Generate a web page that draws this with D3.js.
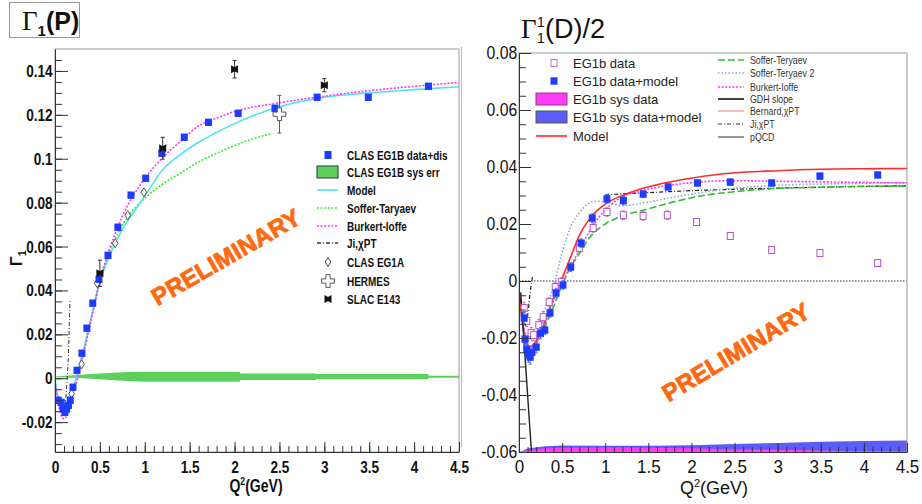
<!DOCTYPE html>
<html><head><meta charset="utf-8">
<script src="https://cdn.jsdelivr.net/npm/d3@7/dist/d3.min.js"></script>
<style>html,body{margin:0;padding:0;background:#fff}svg{display:block}</style>
</head><body>
<svg id="chart" width="922" height="504"></svg>
<script>
// ================= DATA =================
// shared x axis
const xTicks = [0,0.5,1,1.5,2,2.5,3,3.5,4,4.5];
const xTickLabels = ["0","0.5","1","1.5","2","2.5","3","3.5","4","4.5"];

// ---- Left panel: Gamma1(P) ----
const yTicksP = [-0.02,0,0.02,0.04,0.06,0.08,0.1,0.12,0.14];
const yTickLabelsP = ["-0.02","0","0.02","0.04","0.06","0.08","0.1","0.12","0.14"];

const eg1bPQ = [0.035,0.07,0.09,0.11,0.13,0.15,0.17,0.20,0.245,0.30,0.355,0.42,0.49,0.59,0.70,0.846,1.01,1.19,1.44,1.71,2.04,2.45,2.92,3.49,4.16];
const eg1bPV = [-0.010,-0.011,-0.0137,-0.0155,-0.014,-0.0123,-0.010,-0.0041,0.0036,0.0114,0.0228,0.0342,0.0451,0.056,0.0688,0.0834,0.0911,0.1025,0.1098,0.1166,0.1207,0.123,0.128,0.128,0.133];

const eg1aPQ = [0.185,0.297,0.47,0.67,0.81,0.99];
const eg1aPV = [-0.007,0.0064,0.0433,0.0615,0.0743,0.0847];

const slacPQ = [0.5,1.2,2.0,3.0];
const slacPV = [0.0478,0.1048,0.1408,0.1335];
const slacPErr = [0.006,0.005,0.004,0.003];

const hermesPQ = [2.5];
const hermesPV = [0.1203];
const hermesPErr = [0.0086];

const modelPQ = [0,0.03,0.06,0.1,0.13,0.16,0.2,0.25,0.3,0.4,0.5,0.6,0.7,0.8,0.9,1.0,1.2,1.4,1.6,1.8,2.0,2.5,3.0,3.5,4.0,4.5];
const modelPV = [0,-0.008,-0.014,-0.0168,-0.015,-0.011,-0.005,0.002,0.010,0.027,0.044,0.055,0.064,0.071,0.077,0.083,0.095,0.102,0.1075,0.112,0.116,0.1237,0.128,0.130,0.1315,0.1328];

const stPQ = [0.03,0.06,0.1,0.13,0.16,0.2,0.25,0.3,0.4,0.5,0.6,0.7,0.8,0.9,1.0,1.2,1.4,1.6,1.8,2.0,2.2,2.42];
const stPV = [-0.008,-0.014,-0.0168,-0.015,-0.011,-0.005,0.002,0.010,0.027,0.045,0.057,0.066,0.073,0.078,0.082,0.0885,0.0935,0.0985,0.1025,0.106,0.109,0.1115];

const biPQ = [0,0.03,0.06,0.1,0.13,0.16,0.2,0.25,0.3,0.4,0.5,0.6,0.7,0.8,0.9,1.0,1.2,1.4,1.6,1.8,2.0,2.5,3.0,3.5,4.0,4.5];
const biPV = [-0.002,-0.010,-0.016,-0.0185,-0.017,-0.013,-0.007,0.0,0.008,0.026,0.044,0.058,0.069,0.078,0.085,0.091,0.1005,0.108,0.115,0.1185,0.1215,0.1255,0.1285,0.131,0.133,0.1348];

const jiPQ = [0,0.03,0.06,0.09,0.11,0.13,0.15,0.167];
const jiPV = [-0.002,-0.008,-0.012,-0.013,-0.012,-0.004,0.012,0.036];

const sysPQ  = [0,0.2,0.5,0.8,1.0,1.5,2.06,2.06,2.91,2.91,4.16,4.16,4.5];
const sysPLo = [0.0004,0.0002,-0.0005,-0.0012,-0.0016,-0.0016,-0.0016,-0.0008,-0.0008,-0.0004,-0.0004,0.0002,0.0002];
const sysPHi = [0.0008,0.0014,0.0022,0.0028,0.003,0.003,0.003,0.0022,0.0022,0.0019,0.0019,0.0011,0.0011];

const legendP = ["CLAS EG1B data+dis","CLAS EG1B sys err","Model","Soffer-Taryaev","Burkert-Ioffe","Ji,χPT","CLAS EG1A","HERMES","SLAC E143"];

// ---- Right panel: Gamma1(D)/2 ----
const yTicksD = [-0.06,-0.04,-0.02,0,0.02,0.04,0.06,0.08];
const yTickLabelsD = ["-0.06","-0.04","-0.02","0","0.02","0.04","0.06","0.08"];

const dmQ = [0.06,0.07,0.09,0.11,0.13,0.15,0.20,0.25,0.30,0.36,0.43,0.51,0.60,0.72,0.85,1.02,1.21,1.44,1.73,2.07,2.45,2.93,3.49,4.16];
const dmV = [-0.013,-0.0204,-0.024,-0.026,-0.0267,-0.025,-0.0232,-0.0183,-0.0172,-0.0112,-0.0042,-0.0014,0.0049,0.0133,0.0221,0.0288,0.0282,0.0305,0.0330,0.0344,0.0347,0.0344,0.0368,0.0372];
const dmErr = [0.002,0.002,0.002,0.0025,0.0025,0.002,0.002,0.002,0.0015,0.0015,0.0015,0.0015,0.0015,0.0015,0.0015,0.0015,0.0015,0.001,0.001,0.001,0.001,0.001,0.001,0.001];

const ddQ = [0.06,0.09,0.14,0.17,0.23,0.28,0.35,0.42,0.49,0.70,0.86,1.02,1.21,1.44,1.72,2.06,2.45,2.93,3.49,4.16];
const ddV = [-0.0095,-0.014,-0.0183,-0.019,-0.0155,-0.0127,-0.0074,-0.0021,-0.0004,0.0116,0.0186,0.0242,0.0231,0.0228,0.0231,0.0207,0.0158,0.0109,0.0098,0.0063];
const ddErr = [0.002,0.002,0.002,0.002,0.002,0.002,0.0015,0.0015,0.0015,0.0015,0.0015,0.0015,0.0015,0.0015,0.0015,0.0012,0.001,0.001,0.001,0.001];

const modelDQ = [0,0.03,0.06,0.1,0.13,0.2,0.28,0.35,0.44,0.5,0.6,0.7,0.8,0.9,1.0,1.2,1.4,1.6,1.9,2.4,3.0,3.5,4.0,4.5];
const modelDV = [-0.003,-0.012,-0.019,-0.0225,-0.023,-0.021,-0.016,-0.010,-0.003,0.001,0.0085,0.016,0.021,0.0245,0.027,0.030,0.0322,0.0338,0.0356,0.0377,0.0387,0.0392,0.0394,0.0395];

const stDQ = [0,0.03,0.06,0.1,0.15,0.2,0.3,0.4,0.5,0.6,0.7,0.8,1.0,1.2,1.44,1.76,2.1,2.5,3.0,3.5,4.0,4.5];
const stDV = [-0.003,-0.012,-0.019,-0.0235,-0.0245,-0.022,-0.016,-0.009,-0.0015,0.005,0.0095,0.0145,0.020,0.0228,0.0248,0.0275,0.0298,0.0313,0.0325,0.0329,0.0332,0.0333];

const st2DQ = [0,0.03,0.06,0.1,0.15,0.2,0.3,0.4,0.45,0.5,0.6,0.7,0.8,0.9,1.0,1.2,1.44,1.76,2.1,2.5,3.0,3.5,4.0,4.5];
const st2DV = [-0.003,-0.011,-0.017,-0.021,-0.021,-0.018,-0.010,-0.002,0.004,0.010,0.019,0.024,0.027,0.028,0.0277,0.0264,0.0274,0.0292,0.031,0.0325,0.0336,0.034,0.0343,0.0345];

const biDQ = [0,0.03,0.06,0.1,0.15,0.2,0.3,0.4,0.5,0.6,0.7,0.85,1.0,1.2,1.44,1.73,2.07,2.45,3.0,3.5,4.0,4.5];
const biDV = [-0.003,-0.011,-0.018,-0.022,-0.0235,-0.022,-0.015,-0.007,0.000,0.005,0.011,0.019,0.025,0.0295,0.0318,0.0335,0.0347,0.0352,0.035,0.0348,0.0346,0.0344];

const gdhDQ = [0.02,0.15];
const gdhDV = [-0.004,-0.0625];

const jiDQ = [0,0.04,0.07,0.1,0.13,0.16];
const jiDV = [-0.003,-0.011,-0.0155,-0.012,-0.004,0.002];

const pqcdDQ = [1.0,1.5,2.0,2.5,3.0,3.5,4.0,4.5];
const pqcdDV = [0.0303,0.031,0.0317,0.0322,0.0326,0.0329,0.0332,0.0334];

const sysDQ = [0,0.05,0.1,0.3,0.5,1.0,1.5,2.0,2.5,3.0,3.5,4.0,4.5];
const sysDModelTop = [-0.06,-0.0595,-0.0588,-0.058,-0.0577,-0.0578,-0.0578,-0.0576,-0.0572,-0.0568,-0.0564,-0.0561,-0.056];
const sysDDataTop  = [-0.06,-0.0597,-0.0592,-0.0587,-0.0585,-0.0584,-0.0585,-0.0587,-0.059,-0.0592,-0.0595,-0.0597,-0.0599];

const legendD1 = ["EG1b data","EG1b data+model","EG1b sys data","EG1b sys data+model","Model"];
const legendD2 = ["Soffer-Teryaev","Soffer-Teryaev 2","Burkert-Ioffe","GDH slope","Bernard,χPT","Ji,χPT","pQCD"];

// ================= DRAWING =================
const svg = d3.select("#chart");
const defs = svg.append("defs");
const SANS = "'Liberation Sans', Arial, Helvetica, sans-serif";
const SERIF = "'Liberation Serif', 'Times New Roman', serif";
const ORANGE = "#ff6a10";
const pts = (q, v) => q.map((d, i) => [d, v[i]]);

function styleAxis(g, size, weight, sx) {
  g.attr("font-family", null).attr("font-size", null);
  g.selectAll("path.domain").attr("stroke", "#333");
  g.selectAll(".tick line").attr("stroke", "#333");
  g.selectAll(".tick text").attr("font-family", SANS).attr("font-size", size)
    .attr("font-weight", weight).attr("fill", "#111").attr("transform", `scale(${sx},1)`);
}

function drawPanel(opt) {
  const { x, y, id } = opt;
  const [x0, x1] = x.range(), [yb, yt] = y.range();
  defs.append("clipPath").attr("id", id).append("rect")
    .attr("x", x0).attr("y", yt).attr("width", x1 - x0).attr("height", yb - yt);
  const root = svg.append("g");
  const plot = root.append("g").attr("clip-path", `url(#${id})`);
  return { root, plot };
}

function curve(g, x, y, q, v, color, width, dash) {
  g.append("path").datum(pts(q, v))
    .attr("d", d3.line().x(d => x(d[0])).y(d => y(d[1])).curve(d3.curveMonotoneX))
    .attr("fill", "none").attr("stroke", color).attr("stroke-width", width)
    .attr("stroke-dasharray", dash || null);
}

function errBars(g, x, y, q, v, e, color, cap) {
  q.forEach((qq, i) => {
    g.append("line").attr("x1", x(qq)).attr("x2", x(qq))
      .attr("y1", y(v[i] - e[i])).attr("y2", y(v[i] + e[i]))
      .attr("stroke", color).attr("stroke-width", 1);
    if (cap) [v[i] - e[i], v[i] + e[i]].forEach(vv =>
      g.append("line").attr("x1", x(qq) - cap).attr("x2", x(qq) + cap)
        .attr("y1", y(vv)).attr("y2", y(vv)).attr("stroke", color).attr("stroke-width", 1));
  });
}

const starPath = "M-3.5,-4L0,-2L3.5,-4L3.5,4L0,2L-3.5,4Z";
const diamondPath = "M0,-4.5L2.8,0L0,4.5L-2.8,0Z";

// -------- LEFT PANEL --------
const xL = d3.scaleLinear().domain([0, 4.5]).range([55, 459]);
const yL = d3.scaleLinear().domain([-0.0336, 0.15]).range([452, 49]);
const P = drawPanel({ x: xL, y: yL, id: "clipL" });

P.plot.append("path").datum(sysPQ.map((q, i) => [q, sysPLo[i], sysPHi[i]]))
  .attr("d", d3.area().x(d => xL(d[0])).y0(d => yL(d[1])).y1(d => yL(d[2])))
  .attr("fill", "#5bd15b");

curve(P.plot, xL, yL, jiPQ, jiPV, "#333", 1, "4,2,1,2");
curve(P.plot, xL, yL, stPQ, stPV, "#33ee33", 1.6, "2,1.6");
curve(P.plot, xL, yL, modelPQ, modelPV, "#4fe3f0", 1.6, null);
curve(P.plot, xL, yL, biPQ, biPV, "#ff33ff", 1.6, "2,1.6");

// EG1A diamonds
eg1aPQ.forEach((q, i) => P.plot.append("path").attr("d", diamondPath)
  .attr("transform", `translate(${xL(q)},${yL(eg1aPV[i])})`)
  .attr("fill", "#fff").attr("stroke", "#444").attr("stroke-width", 0.9));
// EG1B blue squares
eg1bPQ.forEach((q, i) => P.plot.append("rect")
  .attr("x", xL(q) - 3.5).attr("y", yL(eg1bPV[i]) - 3.7).attr("width", 7).attr("height", 7.4)
  .attr("fill", "#1e3cff"));
// HERMES
errBars(P.plot, xL, yL, hermesPQ, hermesPV, hermesPErr, "#555", 2);
hermesPQ.forEach((q, i) => P.plot.append("path").attr("d", d3.symbol(d3.symbolCross).size(90)())
  .attr("transform", `translate(${xL(q)},${yL(hermesPV[i])})`)
  .attr("fill", "#fff").attr("stroke", "#555").attr("stroke-width", 1));
// SLAC
errBars(P.plot, xL, yL, slacPQ, slacPV, slacPErr, "#333", 2);
slacPQ.forEach((q, i) => P.plot.append("path").attr("d", starPath)
  .attr("transform", `translate(${xL(q)},${yL(slacPV[i])})`).attr("fill", "#111"));

// frame
P.root.append("rect").attr("x", 55).attr("y", 49).attr("width", 404).attr("height", 403)
  .attr("fill", "none").attr("stroke", "#999");

// axes
const gxL = P.root.append("g").attr("transform", "translate(0,452)")
  .call(d3.axisBottom(xL).tickValues(xTicks).tickFormat((d, i) => xTickLabels[i])
    .tickSize(-10).tickSizeOuter(0).tickPadding(9));
styleAxis(gxL, 17, "bold", 0.8);
const gxLm = P.root.append("g").attr("transform", "translate(0,452)")
  .call(d3.axisBottom(xL).tickValues(d3.range(0, 45).map(i => i / 10)).tickFormat("").tickSize(-6));
gxLm.select(".domain").remove(); gxLm.selectAll("line").attr("stroke", "#333");

const gyL = P.root.append("g").attr("transform", "translate(55,0)")
  .call(d3.axisLeft(yL).tickValues(yTicksP).tickFormat((d, i) => yTickLabelsP[i])
    .tickSize(-13).tickSizeOuter(0).tickPadding(3));
styleAxis(gyL, 17, "bold", 0.8);
const gyLm = P.root.append("g").attr("transform", "translate(55,0)")
  .call(d3.axisLeft(yL).tickValues(d3.range(-6, 30).map(i => i * 0.005)).tickFormat("").tickSize(-7));
gyLm.select(".domain").remove(); gyLm.selectAll("line").attr("stroke", "#333");

// axis titles
svg.append("text").attr("transform", "translate(256,492) scale(0.78,1)")
  .attr("text-anchor", "middle").attr("font-family", SANS).attr("font-weight", "bold")
  .attr("font-size", 18).attr("fill", "#111")
  .call(t => { t.append("tspan").text("Q"); t.append("tspan").attr("font-size", 11).attr("dy", -7).text("2");
               t.append("tspan").attr("dy", 7).text("(GeV)"); });
svg.append("text").attr("transform", "translate(22,258) rotate(-90)")
  .attr("text-anchor", "middle").attr("font-family", SANS).attr("font-weight", "bold")
  .attr("font-size", 16).attr("fill", "#111")
  .call(t => { t.append("tspan").text("Γ"); t.append("tspan").attr("font-size", 11).attr("dy", 4).text("1"); });

// legend left
const lgPY = [155, 172, 190, 208, 226, 243, 262, 281, 299];
const lp = P.root.append("g");
legendP.forEach((lab, i) => {
  const yy = lgPY[i], cx = 328;
  if (i === 0) lp.append("rect").attr("x", cx - 3.5).attr("y", yy - 4).attr("width", 7).attr("height", 8).attr("fill", "#1e3cff");
  if (i === 1) lp.append("rect").attr("x", 317).attr("y", yy - 6).attr("width", 21).attr("height", 12).attr("fill", "#5bd15b").attr("stroke", "#333");
  const lineStyles = { 2: ["#4fe3f0", null], 3: ["#33ee33", "2,1.6"], 4: ["#ff33ff", "2,1.6"], 5: ["#333", "4,2,1,2"] };
  if (lineStyles[i]) lp.append("line").attr("x1", 317).attr("x2", 338).attr("y1", yy).attr("y2", yy)
    .attr("stroke", lineStyles[i][0]).attr("stroke-width", 1.6).attr("stroke-dasharray", lineStyles[i][1]);
  if (i === 6) lp.append("path").attr("d", diamondPath).attr("transform", `translate(${cx},${yy})`).attr("fill", "#fff").attr("stroke", "#444");
  if (i === 7) lp.append("path").attr("d", d3.symbol(d3.symbolCross).size(90)()).attr("transform", `translate(${cx},${yy})`).attr("fill", "#fff").attr("stroke", "#555");
  if (i === 8) lp.append("path").attr("d", starPath).attr("transform", `translate(${cx},${yy})`).attr("fill", "#111");
  lp.append("text").attr("transform", `translate(347,${yy + 5}) scale(0.74,1)`)
    .attr("font-family", SANS).attr("font-weight", "bold").attr("font-size", 13.5).attr("fill", "#111").text(lab);
});

// title box left
svg.append("rect").attr("x", 9.5).attr("y", 2.5).attr("width", 70).attr("height", 35)
  .attr("fill", "#fff").attr("stroke", "#999");
svg.append("text").attr("x", 22).attr("y", 30).attr("font-family", SANS).attr("font-weight", "bold")
  .attr("font-size", 25).attr("fill", "#111")
  .call(t => { t.append("tspan").attr("font-family", SERIF).attr("font-weight", "normal").attr("font-size", 27).text("Γ");
               t.append("tspan").attr("font-size", 15).attr("dy", 6).text("1");
               t.append("tspan").attr("dy", -6).text("(P)"); });

// PRELIMINARY left
svg.append("text").attr("transform", "translate(226,257) rotate(-30)")
  .attr("text-anchor", "middle").attr("dy", "0.35em").attr("font-family", SANS).attr("font-weight", "bold")
  .attr("font-size", 24).attr("fill", ORANGE).attr("stroke", ORANGE).attr("stroke-width", 0.9)
  .attr("letter-spacing", 0.3).text("PRELIMINARY");

// -------- RIGHT PANEL --------
const xR = d3.scaleLinear().domain([0, 4.5]).range([519, 907]);
const yR = d3.scaleLinear().domain([-0.06, 0.08]).range([452, 53]);
const D = drawPanel({ x: xR, y: yR, id: "clipR" });

// pad separator
svg.append("line").attr("x1", 461.5).attr("x2", 461.5).attr("y1", 47).attr("y2", 447).attr("stroke", "#bbb");

// bands
D.plot.append("path").datum(pts(sysDQ, sysDModelTop))
  .attr("d", d3.area().x(d => xR(d[0])).y0(yR(-0.06)).y1(d => yR(d[1])))
  .attr("fill", "#5c5cf6");
D.plot.append("path").datum(pts(sysDQ, sysDDataTop))
  .attr("d", d3.area().x(d => xR(d[0])).y0(yR(-0.06)).y1(d => yR(d[1])))
  .attr("fill", "#ff3cf5");

// zero line
D.plot.append("line").attr("x1", xR(0)).attr("x2", xR(4.5)).attr("y1", yR(0)).attr("y2", yR(0))
  .attr("stroke", "#333").attr("stroke-width", 1).attr("stroke-dasharray", "1.5,1.5");

curve(D.plot, xR, yR, pqcdDQ, pqcdDV, "#222", 1.2, "4,2,1,2");
curve(D.plot, xR, yR, st2DQ, st2DV, "#8a9ee0", 1.6, "1.5,2");
curve(D.plot, xR, yR, stDQ, stDV, "#33bb33", 1.6, "7,3");
curve(D.plot, xR, yR, biDQ, biDV, "#ff33ff", 1.6, "2,1.6");
curve(D.plot, xR, yR, modelDQ, modelDV, "#ff2a2a", 1.6, null);
curve(D.plot, xR, yR, jiDQ, jiDV, "#222", 1.2, "4,2,1,2");
D.plot.append("line").attr("x1", xR(gdhDQ[0])).attr("x2", xR(gdhDQ[1]))
  .attr("y1", yR(gdhDV[0])).attr("y2", yR(gdhDV[1])).attr("stroke", "#222").attr("stroke-width", 1.4);

// data
errBars(D.plot, xR, yR, ddQ, ddV, ddErr, "#c070d0", 1.5);
ddQ.forEach((q, i) => D.plot.append("rect")
  .attr("x", xR(q) - 3).attr("y", yR(ddV[i]) - 3.5).attr("width", 6).attr("height", 7)
  .attr("fill", "#fff").attr("stroke", "#b452c8").attr("stroke-width", 1));
errBars(D.plot, xR, yR, dmQ, dmV, dmErr, "#5a6cff", 1.5);
dmQ.forEach((q, i) => D.plot.append("rect")
  .attr("x", xR(q) - 3.5).attr("y", yR(dmV[i]) - 3.7).attr("width", 7).attr("height", 7.4)
  .attr("fill", "#1e3cff"));

// frame
D.root.append("rect").attr("x", 519).attr("y", 53).attr("width", 388).attr("height", 399)
  .attr("fill", "none").attr("stroke", "#999");

const gxR = D.root.append("g").attr("transform", "translate(0,452)")
  .call(d3.axisBottom(xR).tickValues(xTicks).tickFormat((d, i) => xTickLabels[i])
    .tickSize(-9).tickSizeOuter(0).tickPadding(8));
styleAxis(gxR, 18.5, "normal", 0.92);
const gxRm = D.root.append("g").attr("transform", "translate(0,452)")
  .call(d3.axisBottom(xR).tickValues(d3.range(0, 45).map(i => i / 10)).tickFormat("").tickSize(-5));
gxRm.select(".domain").remove(); gxRm.selectAll("line").attr("stroke", "#333");

const gyR = D.root.append("g").attr("transform", "translate(519,0)")
  .call(d3.axisLeft(yR).tickValues(yTicksD).tickFormat((d, i) => yTickLabelsD[i])
    .tickSize(-12).tickSizeOuter(0).tickPadding(2));
styleAxis(gyR, 17.5, "normal", 0.9);
const gyRm = D.root.append("g").attr("transform", "translate(519,0)")
  .call(d3.axisLeft(yR).tickValues(d3.range(-12, 17).map(i => i * 0.005)).tickFormat("").tickSize(-7));
gyRm.select(".domain").remove(); gyRm.selectAll("line").attr("stroke", "#333");

svg.append("text").attr("transform", "translate(714,494)")
  .attr("text-anchor", "middle").attr("font-family", SANS).attr("font-size", 18).attr("fill", "#111")
  .call(t => { t.append("tspan").text("Q"); t.append("tspan").attr("font-size", 11).attr("dy", -7).text("2");
               t.append("tspan").attr("dy", 7).text("(GeV)"); });

// title right
svg.append("text").attr("x", 521).attr("y", 38).attr("font-family", SERIF).attr("font-size", 27).attr("fill", "#111").text("Γ");
svg.append("text").attr("x", 537).attr("y", 27).attr("font-family", SANS).attr("font-size", 14).attr("fill", "#111").text("1");
svg.append("text").attr("x", 537).attr("y", 43).attr("font-family", SANS).attr("font-size", 14).attr("fill", "#111").text("1");
svg.append("text").attr("x", 545).attr("y", 38).attr("font-family", SANS).attr("font-size", 27).attr("fill", "#111").text("(D)/2");

// legend right, column 1
const lgD1Y = [63, 81, 99, 117, 136];
const l1 = D.root.append("g");
legendD1.forEach((lab, i) => {
  const yy = lgD1Y[i];
  if (i === 0) l1.append("rect").attr("x", 551).attr("y", yy - 3.5).attr("width", 6).attr("height", 7).attr("fill", "#fff").attr("stroke", "#c070d0");
  if (i === 1) l1.append("rect").attr("x", 550.5).attr("y", yy - 3.7).attr("width", 7).attr("height", 7.4).attr("fill", "#1e3cff");
  if (i === 2) l1.append("rect").attr("x", 536).attr("y", yy - 6).attr("width", 31).attr("height", 12).attr("fill", "#ff3cf5").attr("stroke", "#8a3a8a");
  if (i === 3) l1.append("rect").attr("x", 536).attr("y", yy - 6).attr("width", 31).attr("height", 12).attr("fill", "#5c5cf6").attr("stroke", "#555");
  if (i === 4) l1.append("line").attr("x1", 536).attr("x2", 567).attr("y1", yy).attr("y2", yy).attr("stroke", "#ff2a2a").attr("stroke-width", 1.6);
  l1.append("text").attr("x", 573).attr("y", yy + 5).attr("font-family", SANS).attr("font-size", 13).attr("fill", "#222").text(lab);
});

// legend right, column 2
const lgD2Y = [60, 73, 87, 99, 111, 124, 137];
const lineStylesD = [["#33bb33", "7,3", 1.6], ["#8a9ee0", "1.5,2", 1.4], ["#ff33ff", "2,1.6", 1.6], ["#444", null, 2],
                     ["#ff9a9a", null, 1.4], ["#333", "4,2,1,2", 1.2], ["#999", null, 2]];
const l2 = D.root.append("g");
legendD2.forEach((lab, i) => {
  const yy = lgD2Y[i], s = lineStylesD[i];
  l2.append("line").attr("x1", 718).attr("x2", 744).attr("y1", yy).attr("y2", yy)
    .attr("stroke", s[0]).attr("stroke-dasharray", s[1]).attr("stroke-width", s[2]);
  l2.append("text").attr("transform", `translate(750,${yy + 4}) scale(0.8,1)`)
    .attr("font-family", SANS).attr("font-size", 11).attr("fill", "#333").text(lab);
});

// PRELIMINARY right
svg.append("text").attr("transform", "translate(736,352) rotate(-31)")
  .attr("text-anchor", "middle").attr("dy", "0.35em").attr("font-family", SANS).attr("font-weight", "bold")
  .attr("font-size", 24).attr("fill", ORANGE).attr("stroke", ORANGE).attr("stroke-width", 0.9)
  .attr("letter-spacing", 0.3).text("PRELIMINARY");
</script>
</body></html>
